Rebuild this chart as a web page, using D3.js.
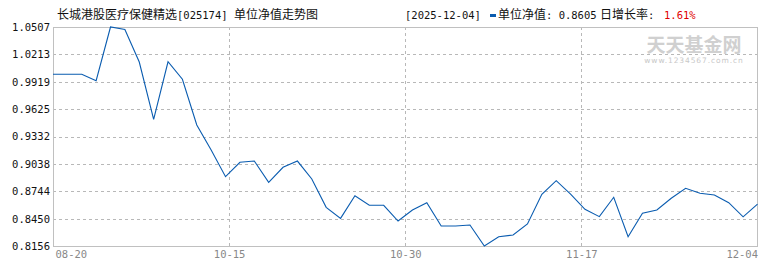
<!DOCTYPE html>
<html><head><meta charset="utf-8">
<script src="https://cdn.jsdelivr.net/npm/d3@7"></script>
<style>body{margin:0;background:#fff}svg{display:block}</style>
</head><body>
<svg id="c" width="770" height="270"></svg>
<script>
const fundTitle = "长城港股医疗保健精选";
const fundCode = "[025174]";
const chartName = "单位净值走势图";
const lastDate = "[2025-12-04]";
const lastNav = "0.8605";
const lastGrowth = "1.61%";
const navValues = [1.0000,1.0000,1.0000,0.9931,1.0507,1.0480,1.0131,0.9516,1.0134,0.9946,
  0.9455,0.9187,0.8900,0.9055,0.9068,0.8840,0.9001,0.9068,0.8875,0.8571,
  0.8453,0.8696,0.8593,0.8593,0.8424,0.8542,0.8621,0.8371,0.8371,0.8381,
  0.8156,0.8256,0.8274,0.8392,0.8711,0.8857,0.8714,0.8550,0.8471,0.8679,
  0.8256,0.8507,0.8542,0.8668,0.8775,0.8722,0.8703,0.8621,0.8469,0.8605];
const xTickLabels = ["08-20","10-15","10-30","11-17","12-04"];
const yTickLabels = ["0.8156","0.8450","0.8744","0.9038","0.9332","0.9625","0.9919","1.0213","1.0507"];

const svg = d3.select("#c");
const L = 53, R = 757.5, T = 27, B = 246;
const yMin = +yTickLabels[0], yMax = +yTickLabels[yTickLabels.length-1];
const x = d3.scaleLinear().domain([0, navValues.length-1]).range([L, R]);
const y = d3.scaleLinear().domain([yMin, yMax]).range([B, T]);
const mono = "'DejaVu Sans Mono', monospace";
const cjk = "'Noto Sans CJK SC', sans-serif";
const gridC = "#b8b8b8";

// watermark
svg.append("text").attr("x", 694).attr("y", 52).attr("text-anchor","middle")
  .attr("font-family", cjk).attr("font-weight","bold").attr("font-size", 19)
  .attr("fill","#d0d0d0").text("天天基金网");
svg.append("text").attr("x", 694).attr("y", 63).attr("text-anchor","middle")
  .attr("font-family", "'DejaVu Sans', sans-serif").attr("font-size", 7.5).attr("letter-spacing", 0.9)
  .attr("fill","#c8c8c8").text("www.1234567.com.cn");

// horizontal grid
const yTickVals = yTickLabels.map((d,k) => yMin + k*(yMax-yMin)/(yTickLabels.length-1));
svg.append("g").selectAll("line").data(yTickVals.slice(1, -1)).join("line")
  .attr("x1", L).attr("x2", R).attr("y1", d => Math.round(y(d))+0.5).attr("y2", d => Math.round(y(d))+0.5)
  .attr("stroke", gridC).attr("stroke-dasharray","3,3");
// vertical grid
const n = navValues.length - 1;
const xTickVals = xTickLabels.map((d,k) => k*n/(xTickLabels.length-1));
svg.append("g").selectAll("line").data(xTickVals.slice(1, -1)).join("line")
  .attr("x1", d => Math.round(x(d))+0.5).attr("x2", d => Math.round(x(d))+0.5).attr("y1", T).attr("y2", B)
  .attr("stroke", gridC).attr("stroke-dasharray","3,3");

// frame
svg.append("rect").attr("x", L+0.5).attr("y", T+0.5).attr("width", 758-L-1).attr("height", B-T)
  .attr("fill","none").attr("stroke","#c0c0c0");

// y axis labels
const yAxis = d3.axisLeft(y).tickValues(yTickVals).tickSize(0).tickPadding(3)
  .tickFormat((d,i) => yTickLabels[i]);
const gy = svg.append("g").attr("transform", `translate(${L},0)`).call(yAxis);
gy.select(".domain").remove();
gy.selectAll("text").attr("font-family", mono).attr("font-size", 10.5).attr("fill","#111");

// x axis labels
const xAxis = d3.axisBottom(x).tickValues(xTickVals).tickSize(0).tickPadding(5)
  .tickFormat((d,i) => xTickLabels[i]);
const gx = svg.append("g").attr("transform", `translate(0,${B})`).call(xAxis);
gx.select(".domain").remove();
gx.selectAll("text").attr("font-family", mono).attr("font-size", 10.5).attr("fill","#888")
  .attr("text-anchor", (d,i) => i === 0 ? "start" : (i === xTickLabels.length-1 ? "end" : "middle"))
  .attr("dx", (d,i) => i === 0 ? 2 : 0);

// line
svg.append("path").datum(navValues)
  .attr("d", d3.line().x((d,i) => x(i)).y(d => y(d)))
  .attr("fill","none").attr("stroke","#0a5cb0").attr("stroke-width",1.1);

// title
const t = svg.append("text").attr("x", 57).attr("y", 19).attr("fill","#111").attr("font-size", 12);
t.append("tspan").attr("font-family", cjk).text(fundTitle);
t.append("tspan").attr("font-family", mono).attr("font-size", 10.5).text(fundCode + " ");
t.append("tspan").attr("font-family", cjk).text(chartName);

// header right
svg.append("text").attr("x", 405).attr("y", 19).attr("font-family", mono).attr("font-size", 10.5)
  .attr("fill","#111").text(lastDate);
svg.append("rect").attr("x", 490).attr("y", 14).attr("width", 6).attr("height", 3).attr("fill","#0a5cb0");
const h = svg.append("text").attr("x", 498).attr("y", 19).attr("fill","#111").attr("font-size", 12);
h.append("tspan").attr("font-family", cjk).text("单位净值");
h.append("tspan").attr("font-family", mono).attr("font-size", 10.5).text(": " + lastNav);
const g2 = svg.append("text").attr("x", 600).attr("y", 19).attr("fill","#111").attr("font-size", 12);
g2.append("tspan").attr("font-family", cjk).text("日增长率");
g2.append("tspan").attr("font-family", mono).attr("font-size", 10.5).text(":");
svg.append("text").attr("x", 664).attr("y", 19).attr("font-family", mono).attr("font-size", 10.5)
  .attr("fill","#e00000").text(lastGrowth);
</script>
</body></html>
